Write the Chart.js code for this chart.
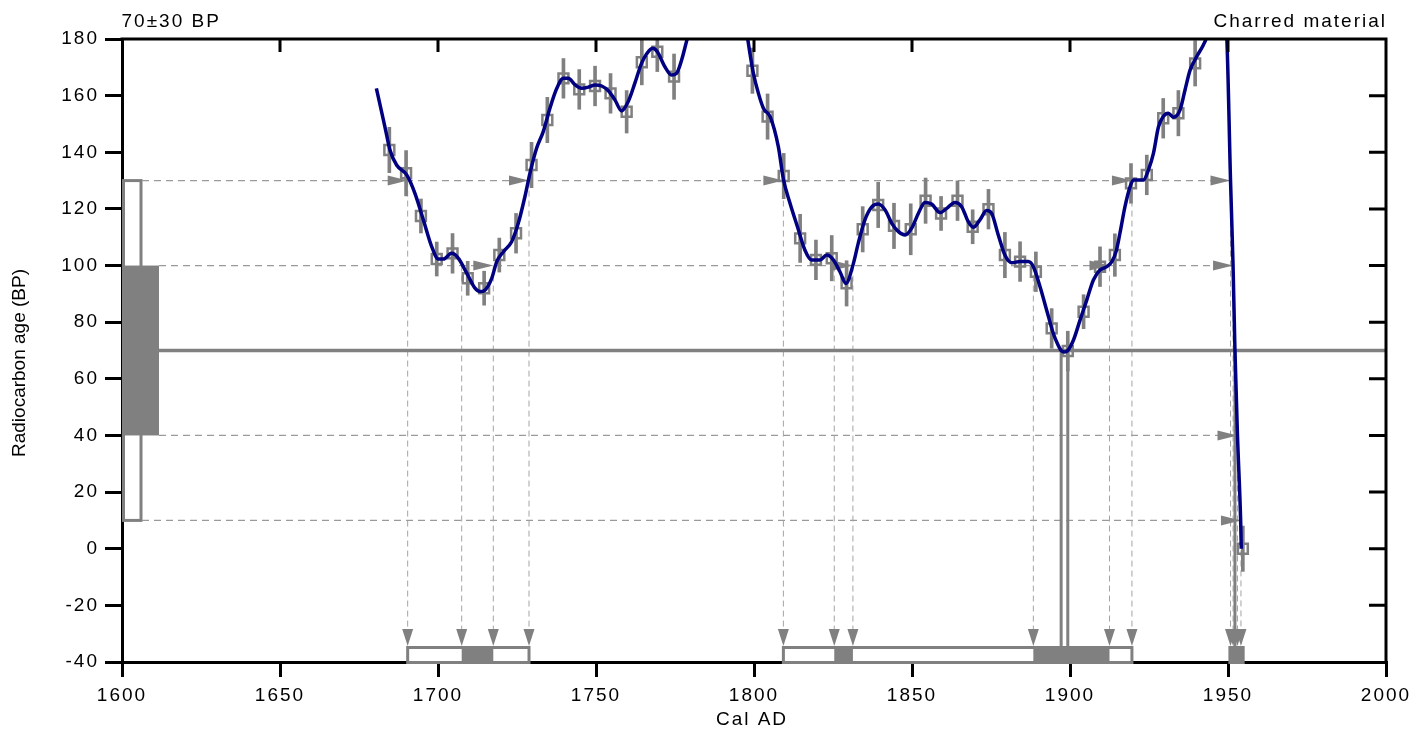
<!DOCTYPE html>
<html><head><meta charset="utf-8">
<script src="https://cdn.jsdelivr.net/npm/chart.js@4.4.1/dist/chart.umd.min.js"></script>
<style>html,body{margin:0;padding:0;background:#fff;}#wrap{width:1427px;height:729px;}</style>
</head><body><div id="wrap"><canvas id="c" width="1427" height="729"></canvas></div>
<script>
// ---------- DATA ----------
const titleLeft = '70\u00B130 BP';
const titleRight = 'Charred material';
const xTitle = 'Cal AD';
const yTitle = 'Radiocarbon age (BP)';
const xRange = [1600, 2000];
const yRange = [-40, 180];
const xStep = 50;
const yStep = 20;
const measuredAge = 70;
const oneSigmaBP = [40, 100];
const twoSigmaBP = [10, 130];
// calibration curve [cal AD, BP]
const calCurve = [[1680.5,162.6],[1683.2,149],[1684.8,140.8],[1686.9,135.5],[1690.1,132],[1692.7,125.5],[1695.4,116],[1698.0,106.7],[1700.1,102.3],[1701.7,102.3],[1704.3,104.3],[1706.4,102.6],[1709.1,97.3],[1711.7,92],[1713.3,90.8],[1714.9,91.4],[1717.0,95.5],[1718.6,101.4],[1720.7,104.9],[1723.3,108.4],[1725.4,114.9],[1727.5,124.3],[1729.1,132.6],[1731.2,141.4],[1733.3,147.3],[1735.4,155.5],[1737.6,162.6],[1739.7,166.1],[1741.2,166.1],[1743.4,163.8],[1745.5,162.6],[1747.6,163],[1749.7,163.8],[1751.8,163.4],[1753.9,161.7],[1756.0,158.5],[1758.1,154.6],[1760.2,157.9],[1762.3,164.4],[1764.4,171.4],[1766.0,174.7],[1767.9,176.7],[1769.4,175.5],[1771.8,170.2],[1773.9,167.3],[1775.5,167.9],[1777.1,172.6],[1778.9,180.2],[1782.0,192],[1788.0,200],[1794.0,193],[1797.9,180.6],[1798.7,175],[1799.8,167.9],[1801.4,160.8],[1803.0,155.5],[1805.1,152.6],[1807.7,142],[1809.3,130.5],[1811.4,122],[1813.8,113.5],[1816.1,105.5],[1818.2,102],[1820.9,102],[1823.0,103.7],[1825.1,102],[1827.2,97.8],[1829.1,93.7],[1831.4,100.5],[1833.0,107.9],[1835.1,116.1],[1837.2,120.6],[1839.3,121.7],[1841.5,119.6],[1843.6,114.9],[1845.7,112],[1847.8,110.8],[1849.9,113.2],[1852.0,118.4],[1854.1,122.3],[1856.2,121.7],[1858.9,118.7],[1861.0,120.2],[1863.6,122.3],[1865.7,120.8],[1867.8,115.5],[1869.4,113.5],[1871.5,116.1],[1873.6,119.4],[1875.2,118.4],[1877.3,110.8],[1879.4,103.7],[1881.5,101],[1884.2,101.4],[1886.8,101.4],[1888.4,99.6],[1890.5,92.6],[1892.6,84.3],[1894.7,76.1],[1896.0,72.5],[1897.2,70],[1898.3,69.5],[1899.3,70],[1901.1,73.7],[1903.2,80.8],[1905.3,87.8],[1907.4,94.9],[1909.5,98.4],[1911.5,99.5],[1913.3,101.5],[1914.6,105],[1915.8,111.4],[1917.4,120.8],[1919.0,127.8],[1920.1,130.2],[1923.2,130.2],[1924.8,133.7],[1926.4,139.6],[1928.0,149],[1929.5,152.6],[1931.1,153.8],[1932.7,152.4],[1934.8,154.9],[1936.4,162],[1938.0,169],[1940.1,173.8],[1942.2,177.9],[1943.3,180.8],[1945.5,192],[1947.5,196],[1949.6,180.8],[1950.8,130],[1951.6,100],[1952.2,70],[1953.0,40],[1954.0,10],[1954.2,0]];
// data points [cal AD, BP, error]
const samples = [[1684.6,140.8,8],[1689.9,132.6,8],[1694.6,117.5,6],[1699.6,102.3,6],[1704.6,104.3,7],[1709.4,95.5,6],[1714.6,92,6],[1719.4,103.7,6],[1724.7,111.4,7],[1729.6,135.5,8],[1734.6,151.4,8],[1739.7,166.1,7],[1744.7,162.2,7],[1749.7,163.4,7],[1754.6,160.8,7],[1759.7,154.3,7.5],[1764.5,171.8,8],[1769.4,175.5,7],[1774.7,166.7,8],[1799.5,168.8,8],[1804.3,152.6,8],[1809.4,131.6,8],[1814.6,109.6,8.5],[1819.6,102,7],[1824.6,102.6,8],[1829.3,93.7,8],[1834.4,112.8,8],[1839.3,121.4,8],[1844.3,114,8],[1849.6,112.8,9],[1854.3,122.9,8],[1859.2,118.4,6],[1864.4,122.9,7],[1869.2,113.7,6],[1874.2,119.9,7],[1879.4,103.7,8],[1884.2,101.4,7],[1889.2,97.8,7],[1894.2,77.8,7],[1899.3,69.8,7],[1904.3,83.7,6],[1909.5,99.6,7],[1914.2,103.7,7.5],[1919.3,129,7],[1924.3,132,7],[1929.5,152,7],[1934.3,153.8,8],[1939.6,171.4,8],[1954.7,0,8]];
// intercepts of curve with the sigma levels [level BP, cal AD, arrow?]
const intercepts = [[130,1690.4,1],[130,1728.8,1],[130,1809.3,1],[130,1919.6,1],[130,1950.8,1],
  [100,1707.5,0],[100,1717.5,1],[100,1825.4,0],[100,1831.3,1],[100,1888.4,0],[100,1912.5,1],[100,1951.6,1],
  [40,1953.0,1],[10,1954.1,1]];
const meanIntercepts = [1897.2, 1899.3, 1952.2];
const twoSigmaRanges = [[1690.4,1728.8],[1809.3,1919.6],[1950.6,1954.8]];
const oneSigmaRanges = [[1707.5,1717.5],[1825.4,1831.3],[1888.4,1912.5],[1950.6,1954.8]];

// ---------- STYLE ----------
const GRAY = '#808080';
const DASH = '#9a9a9a';
const FONT = '"Liberation Sans", Arial, Helvetica, sans-serif';

const overlay = {
  id: 'overlay',
  beforeUpdate(chart){ chart.ctx.letterSpacing = '2px'; },
  beforeDraw(chart){ chart.ctx.letterSpacing = '2px'; },
  beforeDatasetsDraw(chart){
    const ctx = chart.ctx, X = chart.scales.x, Y = chart.scales.y, A = chart.chartArea;
    const px = v => X.getPixelForValue(v), py = v => Y.getPixelForValue(v);
    const barTop = A.bottom - 16;
    ctx.save();
    ctx.fillStyle = '#fff'; ctx.strokeStyle = GRAY; ctx.lineWidth = 3;
    ctx.fillRect(A.left + 1.5, py(twoSigmaBP[1]), 17.5, py(twoSigmaBP[0]) - py(twoSigmaBP[1]));
    ctx.strokeRect(A.left + 1.5, py(twoSigmaBP[1]), 17.5, py(twoSigmaBP[0]) - py(twoSigmaBP[1]));
    ctx.fillStyle = GRAY;
    ctx.fillRect(A.left, py(oneSigmaBP[1]), 37, py(oneSigmaBP[0]) - py(oneSigmaBP[1]));
    ctx.setLineDash([7,5]); ctx.lineWidth = 1.2; ctx.strokeStyle = DASH;
    const levels = [twoSigmaBP[1], oneSigmaBP[1], oneSigmaBP[0], twoSigmaBP[0]];
    levels.forEach(lv => {
      const xs = intercepts.filter(d => d[0] === lv).map(d => d[1]);
      const start = (lv === twoSigmaBP[0] || lv === twoSigmaBP[1]) ? A.left + 20 : A.left + 37;
      ctx.beginPath(); ctx.moveTo(start, py(lv)); ctx.lineTo(px(Math.max(...xs)), py(lv)); ctx.stroke();
    });
    ctx.setLineDash([6,4]); ctx.lineWidth = 1; ctx.strokeStyle = '#a4a4a4';
    intercepts.forEach(d => {
      ctx.beginPath(); ctx.moveTo(px(d[1]), py(d[0])); ctx.lineTo(px(d[1]), barTop - 15); ctx.stroke();
    });
    ctx.setLineDash([]);
    ctx.strokeStyle = GRAY; ctx.lineWidth = 3;
    meanIntercepts.forEach(x => {
      ctx.beginPath(); ctx.moveTo(px(x), py(measuredAge)); ctx.lineTo(px(x), barTop); ctx.stroke();
    });
    ctx.fillStyle = GRAY;
    intercepts.forEach(d => {
      const x = px(d[1]), y = py(d[0]);
      if (d[2]) {
        ctx.beginPath(); ctx.moveTo(x, y); ctx.lineTo(x - 20, y - 5); ctx.lineTo(x - 20, y + 5); ctx.closePath(); ctx.fill();
      }
      ctx.beginPath(); ctx.moveTo(x, barTop); ctx.lineTo(x - 5.5, barTop - 17); ctx.lineTo(x + 5.5, barTop - 17); ctx.closePath(); ctx.fill();
    });
    ctx.restore();
  },
  afterDraw(chart){
    const ctx = chart.ctx, X = chart.scales.x, Y = chart.scales.y, A = chart.chartArea;
    const px = v => X.getPixelForValue(v), py = v => Y.getPixelForValue(v);
    const barTop = A.bottom - 16;
    ctx.save();
    ctx.strokeStyle = '#000'; ctx.lineWidth = 3; ctx.lineCap = 'butt';
    ctx.beginPath(); ctx.moveTo(A.left - 1.5, A.top); ctx.lineTo(A.right + 1.5, A.top);
    ctx.moveTo(A.right, A.top); ctx.lineTo(A.right, A.bottom + 1.5); ctx.stroke();
    ctx.beginPath();
    for (let v = xRange[0] + xStep; v < xRange[1]; v += xStep) { ctx.moveTo(px(v), A.top); ctx.lineTo(px(v), A.top + 13); }
    for (let v = yRange[0] + yStep; v < yRange[1]; v += yStep) { ctx.moveTo(A.right, py(v)); ctx.lineTo(A.right - 17, py(v)); }
    ctx.stroke();
    ctx.lineWidth = 3; ctx.strokeStyle = GRAY;
    twoSigmaRanges.forEach(r => {
      const a = px(r[0]), b = px(r[1]);
      ctx.fillStyle = '#fff'; ctx.fillRect(a, barTop, b - a, A.bottom + 2 - barTop);
      ctx.strokeRect(a, barTop + 1.5, b - a, A.bottom + 0.5 - (barTop + 1.5));
    });
    ctx.fillStyle = GRAY;
    oneSigmaRanges.forEach(r => {
      const a = px(r[0]), b = px(r[1]);
      ctx.fillRect(a, barTop, b - a, A.bottom + 2 - barTop);
    });
    ctx.fillStyle = '#000'; ctx.font = '19px ' + FONT; ctx.textBaseline = 'alphabetic';
    ctx.letterSpacing = '2px';
    ctx.textAlign = 'left'; ctx.fillText(titleLeft, A.left - 0.5, 27);
    ctx.textAlign = 'right'; ctx.fillText(titleRight, A.right + 1, 27);
    ctx.textAlign = 'center'; ctx.fillText(xTitle, (A.left + A.right) / 2 - 2, 725);
    ctx.letterSpacing = '0px';
    ctx.translate(25, 363); ctx.rotate(-Math.PI / 2);
    ctx.fillText(yTitle, 0, 0);
    ctx.restore();
  }
};

new Chart(document.getElementById('c'), {
  type: 'scatter',
  data: {
    datasets: [
      { type: 'line', data: calCurve.map(p => ({x: p[0], y: p[1]})), borderColor: '#000080', borderWidth: 3.5,
        pointRadius: 0, cubicInterpolationMode: 'monotone', fill: false, clip: 0 },
      { type: 'scatter', data: samples.map(p => ({x: p[0], y: p[1]})), pointStyle: 'rect', pointRadius: 7,
        borderColor: GRAY, backgroundColor: 'rgba(0,0,0,0)', borderWidth: 2.5 },
      { type: 'bar', data: samples.map(p => ({x: p[0], y: [p[1] - p[2], p[1] + p[2]]})), backgroundColor: GRAY,
        borderWidth: 0, barThickness: 3, grouped: false },
      { type: 'line', data: [{x: xRange[0], y: measuredAge}, {x: xRange[1], y: measuredAge}], borderColor: GRAY,
        borderWidth: 3.5, pointRadius: 0, tension: 0 }
    ]
  },
  options: {
    responsive: false, devicePixelRatio: 1, animation: false,
    layout: { padding: { top: 39, right: 41, left: 0, bottom: 0 } },
    plugins: { legend: { display: false }, tooltip: { enabled: false } },
    scales: {
      x: { type: 'linear', position: 'bottom', min: xRange[0], max: xRange[1], offset: false,
        ticks: { stepSize: xStep, callback: v => String(v), font: { size: 19, family: FONT }, color: '#000', padding: 7, maxRotation: 0, autoSkip: false },
        grid: { offset: false, drawOnChartArea: false, drawTicks: true, tickLength: 15, lineWidth: 3, color: '#000' },
        border: { display: true, color: '#000', width: 3 },
        afterFit: s => { s.height = 67; } },
      y: { type: 'linear', position: 'left', min: yRange[0], max: yRange[1],
        ticks: { stepSize: yStep, callback: v => String(v), font: { size: 19, family: FONT }, color: '#000', padding: 6 },
        grid: { offset: false, drawOnChartArea: false, drawTicks: true, tickLength: 17, lineWidth: 3, color: '#000' },
        border: { display: true, color: '#000', width: 3 },
        afterFit: s => { s.width = 122; } }
    }
  },
  plugins: [overlay]
});
</script></body></html>
